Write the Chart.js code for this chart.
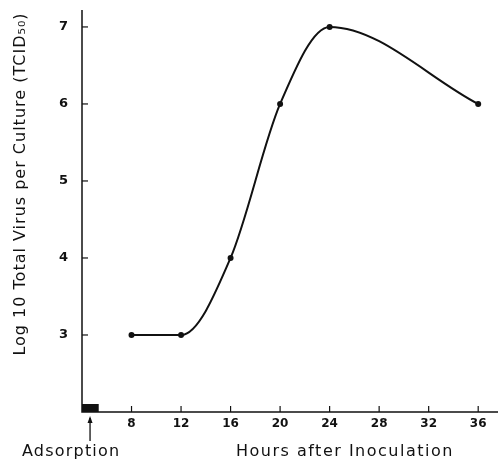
<!DOCTYPE html>
<html><head><meta charset="utf-8">
<script src="https://cdn.jsdelivr.net/npm/chart.js@4.4.1/dist/chart.umd.min.js"></script>
<style>html,body{margin:0;padding:0;background:#fff}#wrap{width:498px;height:464px}</style>
</head><body><div id="wrap"><canvas id="c" width="498" height="464"></canvas></div>
<script>
const hours = [8, 12, 16, 20, 24, 36];
const logVirus = [3, 3, 4, 6, 7, 6];
const xTicks = [8, 12, 16, 20, 24, 28, 32, 36];
const yTicks = [3, 4, 5, 6, 7];
const adsorptionPeriod = [4, 5.35];
const adsorptionMark = 4.65;
const yTitle = 'Log 10 Total Virus per Culture (TCID\u2085\u2080)';
const xTitle = 'Hours after Inoculation';
const adsorptionLabel = 'Adsorption';

const ink = '#111';
const decor = {
  id: 'decor',
  afterDraw(chart) {
    const ctx = chart.ctx, xs = chart.scales.x, ys = chart.scales.y, a = chart.chartArea;
    ctx.save();
    ctx.strokeStyle = ink; ctx.fillStyle = ink; ctx.lineWidth = 1.5;
    ctx.beginPath();
    ctx.moveTo(a.left, a.top); ctx.lineTo(a.left, a.bottom); ctx.lineTo(a.right, a.bottom);
    ctx.stroke();
    ctx.lineWidth = 1.2;
    xTicks.forEach(v => { const px = xs.getPixelForValue(v); ctx.beginPath(); ctx.moveTo(px, a.bottom); ctx.lineTo(px, a.bottom - 6); ctx.stroke(); });
    yTicks.forEach(v => { const py = ys.getPixelForValue(v); ctx.beginPath(); ctx.moveTo(a.left, py); ctx.lineTo(a.left + 6, py); ctx.stroke(); });
    const x0 = xs.getPixelForValue(adsorptionPeriod[0]), x1 = xs.getPixelForValue(adsorptionPeriod[1]);
    ctx.fillRect(x0, a.bottom - 8, x1 - x0, 8);
    const ax = xs.getPixelForValue(adsorptionMark);
    ctx.lineWidth = 1.3;
    ctx.beginPath(); ctx.moveTo(ax, 441); ctx.lineTo(ax, 418); ctx.stroke();
    ctx.beginPath(); ctx.moveTo(ax, 416); ctx.lineTo(ax - 2.5, 423); ctx.lineTo(ax + 2.5, 423); ctx.closePath(); ctx.fill();
    ctx.font = '16px "DejaVu Sans"';
    ctx.textBaseline = 'middle';
    ctx.textAlign = 'left';
    ctx.letterSpacing = '1.2px';
    ctx.fillText(adsorptionLabel, 22, 452);
    ctx.letterSpacing = '1.5px';
    ctx.fillText(xTitle, 236, 452);
    ctx.translate(21, 184);
    ctx.rotate(-Math.PI / 2);
    ctx.textAlign = 'center';
    ctx.letterSpacing = '1px';
    ctx.font = '16px "DejaVu Sans"';
    ctx.fillText(yTitle, 0, 0);
    ctx.restore();
  }
};

new Chart(document.getElementById('c'), {
  type: 'line',
  data: {
    datasets: [{
      data: hours.map((h, i) => ({ x: h, y: logVirus[i] })),
      borderColor: ink, backgroundColor: ink, borderWidth: 2,
      pointRadius: 3, pointBackgroundColor: ink, pointBorderWidth: 0,
      cubicInterpolationMode: 'monotone', fill: false
    }]
  },
  plugins: [decor],
  options: {
    responsive: false, animation: false,
    layout: { autoPadding: false, padding: { top: 10, right: 0, left: 0, bottom: 0 } },
    plugins: { legend: { display: false }, tooltip: { enabled: false } },
    scales: {
      x: {
        type: 'linear', min: 4, max: 37.6,
        afterBuildTicks: s => { s.ticks = xTicks.map(v => ({ value: v })); },
        afterFit: s => { s.height = 52; s.paddingLeft = 0; s.paddingRight = 0; },
        grid: { display: false, drawTicks: false }, border: { display: false },
        ticks: { color: ink, padding: 5, font: { family: 'DejaVu Sans', weight: 'bold', size: 12 } }
      },
      y: {
        min: 2, max: 7.22,
        afterBuildTicks: s => { s.ticks = yTicks.map(v => ({ value: v })); },
        afterFit: s => { s.width = 82; s.paddingTop = 0; s.paddingBottom = 0; },
        grid: { display: false, drawTicks: false }, border: { display: false },
        ticks: { color: ink, padding: 14, font: { family: 'DejaVu Sans', weight: 'bold', size: 13 } }
      }
    }
  }
});
</script></body></html>
